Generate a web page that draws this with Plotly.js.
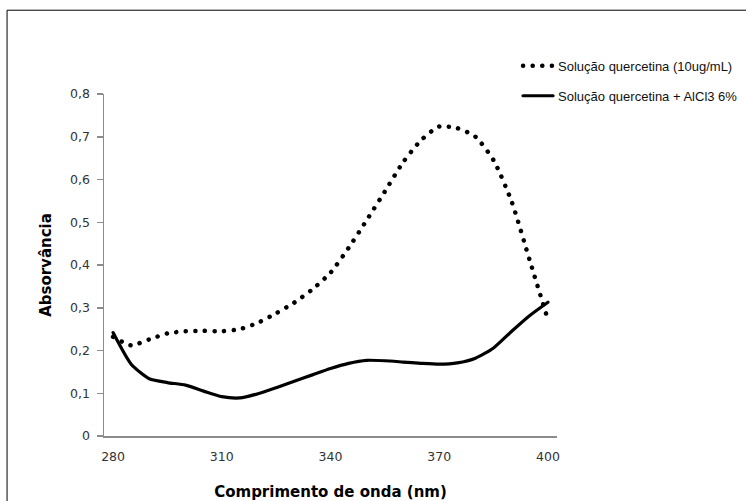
<!DOCTYPE html>
<html>
<head>
<meta charset="utf-8">
<script src="https://cdn.plot.ly/plotly-3.0.1.min.js"></script>
<style>
html,body{margin:0;padding:0;background:#fff;}
#chart{width:746px;height:501px;}
</style>
</head>
<body>
<div id="chart"></div>
<script>
// Wavelength (nm)
const wavelengths = [280,285,290,295,300,305,310,315,320,325,330,335,340,345,350,355,360,365,370,375,380,385,390,395,400];
// Solução quercetina (10ug/mL)
const quercetina = [0.232,0.212,0.226,0.240,0.245,0.246,0.245,0.250,0.265,0.287,0.312,0.343,0.382,0.440,0.505,0.572,0.640,0.692,0.724,0.720,0.700,0.645,0.548,0.410,0.272];
// Solução quercetina + AlCl3 6%
const quercetinaAlCl3 = [0.242,0.168,0.134,0.125,0.119,0.105,0.092,0.089,0.099,0.113,0.128,0.143,0.158,0.170,0.177,0.176,0.173,0.170,0.168,0.171,0.182,0.206,0.245,0.282,0.313];

const xTicks = [280,310,340,370,400];
const xTickLabels = ['280','310','340','370','400'];
const yTicks = [0,0.1,0.2,0.3,0.4,0.5,0.6,0.7,0.8];
const yTickLabels = ['0','0,1','0,2','0,3','0,4','0,5','0,6','0,7','0,8'];

const traces = [
  {
    x: wavelengths, y: quercetina, type: 'scatter', mode: 'lines',
    name: 'Solução quercetina (10ug/mL)', legendgroup: 'a',
    line: {color: '#000', width: 4.5, dash: '0.1px,9.5px', shape: 'spline', smoothing: 0.6}
  },
  {
    x: wavelengths, y: quercetinaAlCl3, type: 'scatter', mode: 'lines',
    name: 'Solução quercetina + AlCl3 6%', legendgroup: 'b',
    line: {color: '#000', width: 3.2, shape: 'spline', smoothing: 0.6}
  }
];

const tickFont = {family: '"DejaVu Sans", sans-serif', size: 12.5, color: '#333'};
const titleFont = {family: '"DejaVu Sans", sans-serif', size: 15, color: '#000'};

const layout = {
  width: 746, height: 501,
  margin: {l: 104, r: 189, t: 94, b: 65, autoexpand: false},
  paper_bgcolor: '#fff', plot_bgcolor: '#fff',
  showlegend: true,
  legend: {
    x: 0.914, xanchor: 'left', y: 1.126, yanchor: 'top',
    font: {family: '"Liberation Sans", Arial, sans-serif', size: 13, color: '#111'},
    tracegroupgap: 10, traceorder: 'grouped',
    bgcolor: 'rgba(0,0,0,0)'
  },
  xaxis: {
    range: [277.5, 402.5],
    tickvals: xTicks, ticktext: xTickLabels,
    showgrid: false, zeroline: false,
    showline: true, linecolor: '#8c8c8c', linewidth: 1.5,
    ticks: '', ticklabelstandoff: 8,
    tickfont: tickFont,
    title: {text: '<b>Comprimento de onda (nm)</b>', standoff: 24, font: titleFont}
  },
  yaxis: {
    range: [0, 0.8],
    tickvals: yTicks, ticktext: yTickLabels,
    showgrid: false, zeroline: false,
    showline: true, linecolor: '#8c8c8c', linewidth: 1.5,
    ticks: 'outside', ticklen: 6, tickcolor: '#8c8c8c', tickwidth: 1.5,
    ticklabelstandoff: 4,
    tickfont: tickFont,
    title: {text: '<b>Absorvância</b>', standoff: 15, font: titleFont}
  },
  shapes: [
    {type: 'line', xref: 'paper', yref: 'paper', x0: -0.214, x1: 1.5, y0: 1.245, y1: 1.245, line: {color: '#000', width: 1}},
    {type: 'line', xref: 'paper', yref: 'paper', x0: -0.214, x1: -0.214, y0: 1.245, y1: -0.3, line: {color: '#000', width: 1}}
  ]
};

Plotly.newPlot('chart', traces, layout, {displayModeBar: false, staticPlot: true}).then(function(){
  document.querySelectorAll('.scatterlayer .js-line, .legend .js-line').forEach(function(p){
    p.style.strokeLinecap = 'round';
  });
});
</script>
</body>
</html>
